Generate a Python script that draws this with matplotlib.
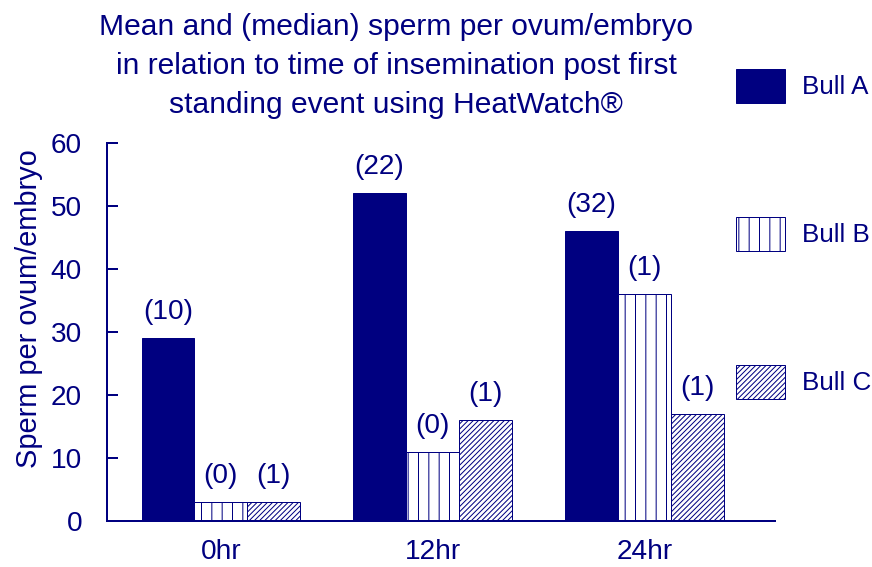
import matplotlib
matplotlib.use("Agg")
import matplotlib.pyplot as plt
import numpy as np

# data
times = ["0hr", "12hr", "24hr"]
bulls = ["Bull A", "Bull B", "Bull C"]
bull_a = [29, 52, 46]
bull_b = [3, 11, 36]
bull_c = [3, 16, 17]
med_a = [10, 22, 32]
med_b = [0, 0, 1]
med_c = [1, 1, 1]

NAVY = "#000080"
DPI = 62.5


def pt(px):
    # pixels -> points at this dpi
    return px * 72.0 / DPI


plt.rcParams["font.family"] = ["Liberation Sans", "DejaVu Sans"]
plt.rcParams["hatch.color"] = NAVY
plt.rcParams["hatch.linewidth"] = pt(1.0)

fig = plt.figure(figsize=(872 / DPI, 567 / DPI), dpi=DPI)
ax = fig.add_axes([107 / 872, 46 / 567, 668 / 872, 378 / 567])

x = np.arange(len(times))
w = 0.25
styles = [dict(color=NAVY, edgecolor=NAVY),
          dict(color="white", edgecolor=NAVY, hatch="|"),
          dict(color="white", edgecolor=NAVY, hatch="////")]
series = [bull_a, bull_b, bull_c]
medians = [med_a, med_b, med_c]

for i, (vals, meds, st) in enumerate(zip(series, medians, styles)):
    bars = ax.bar(x + (i - 1) * w, vals, w, label=bulls[i],
                  linewidth=pt(1.0), **st)
    ax.bar_label(bars, labels=["(%d)" % m for m in meds], padding=pt(13),
                 fontsize=pt(28), color=NAVY)

ax.set_xlim(-0.538, 2.618)
ax.set_ylim(0, 60)
ax.set_yticks(range(0, 61, 10))
ax.set_xticks(x)
ax.set_xticklabels(times)

for s in ["top", "right"]:
    ax.spines[s].set_visible(False)
for s in ["left", "bottom"]:
    ax.spines[s].set_color(NAVY)
    ax.spines[s].set_linewidth(pt(2.0))

ax.tick_params(axis="y", direction="in", length=pt(11), width=pt(2.0),
               color=NAVY, labelcolor=NAVY, labelsize=pt(28), pad=pt(25))
ax.tick_params(axis="x", length=0, labelcolor=NAVY, labelsize=pt(28),
               pad=pt(18))

ax.set_ylabel("Sperm per ovum/embryo", color=NAVY, fontsize=pt(29))
ax.yaxis.set_label_coords(-0.096, 0.563)

fig.text(396 / 872, 1 - 13 / 567,
         "Mean and (median) sperm per ovum/embryo\n"
         "in relation to time of insemination post first\n"
         "standing event using HeatWatch\u00ae",
         ha="center", va="top", fontsize=pt(30), color=NAVY, linespacing=1.49)

leg = ax.legend(loc="upper left", bbox_to_anchor=(736 / 872, 1 - 69 / 567),
                bbox_transform=fig.transFigure, frameon=False,
                fontsize=pt(26), handlelength=1.88, handleheight=1.635,
                labelspacing=4.38, handletextpad=0.65, borderpad=0,
                borderaxespad=0)
for t in leg.get_texts():
    t.set_color(NAVY)

fig.savefig("out.png", dpi=DPI)
